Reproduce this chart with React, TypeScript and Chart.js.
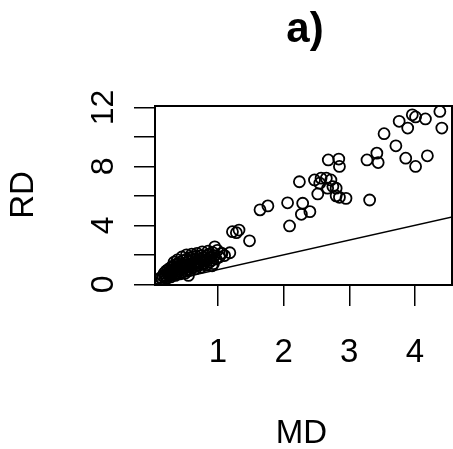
import React, { useEffect, useRef } from "react";
import { Chart, registerables } from "chart.js";

Chart.register(...registerables);

// MD (x) values of the observations
const mdValues: number[] = [
  4.38, 4.41, 4.16, 3.96, 4.01, 3.76, 3.89, 3.53, 3.71, 4.19, 3.86, 4.01, 3.42, 3.27, 3.44, 3.31,
  2.68, 2.84, 2.85, 2.24, 2.47, 2.57, 2.65, 2.72, 2.55, 2.75, 2.8, 2.67, 2.52, 2.8, 2.85, 2.95,
  2.06, 2.29, 2.4, 2.27, 2.09, 1.64, 1.76, 1.22, 1.32, 1.28, 1.48, 1.18, 0.95, 1.05,
  0.13, 0.16, 0.18, 0.2, 0.21, 0.23, 0.24, 0.25, 0.26, 0.27, 0.28, 0.29, 0.3, 0.31, 0.32, 0.33,
  0.34, 0.35, 0.36, 0.37, 0.38, 0.39, 0.4, 0.41, 0.42, 0.43, 0.44, 0.45, 0.46, 0.47, 0.48, 0.49,
  0.5, 0.51, 0.52, 0.53, 0.54, 0.55, 0.56, 0.57, 0.58, 0.59, 0.6, 0.61, 0.62, 0.63, 0.64, 0.65,
  0.66, 0.67, 0.68, 0.69, 0.7, 0.72, 0.73, 0.74, 0.75, 0.77, 0.78, 0.79, 0.8, 0.82, 0.83, 0.84,
  0.86, 0.87, 0.88, 0.9, 0.92, 0.93, 0.95, 0.97, 0.99, 1.02, 1.06, 1.1,
  0.15, 0.19, 0.22, 0.28, 0.35, 0.42, 0.5, 0.58, 0.66, 0.74,
  0.38, 0.45, 0.52, 0.6, 0.68, 0.76, 0.85, 0.91, 0.33, 0.55,
];

// RD (y) values of the observations
const rdValues: number[] = [
  11.73, 10.6, 11.22, 11.5, 11.36, 11.06, 10.6, 10.22, 9.4, 8.72, 8.56, 8.0, 8.9, 8.44, 8.26, 5.72,
  8.44, 8.5, 8.0, 6.96, 7.08, 7.2, 7.2, 7.08, 6.86, 6.63, 6.52, 6.52, 6.13, 6.0, 5.9, 5.83,
  5.53, 5.5, 4.93, 4.75, 3.96, 5.05, 5.32, 3.57, 3.68, 3.5, 2.95, 2.14, 2.54, 2.09,
  0.45, 0.55, 0.75, 0.62, 0.9, 0.7, 1.0, 0.82, 0.58, 1.1, 0.92, 0.74, 1.2, 0.85, 1.02, 0.66,
  1.3, 0.95, 1.12, 0.78, 1.4, 1.05, 0.88, 1.25, 1.5, 0.98, 1.15, 0.8, 1.35, 1.6, 1.08, 1.22,
  0.92, 1.45, 1.7, 1.18, 1.32, 1.02, 1.55, 1.8, 1.26, 1.4, 1.1, 1.62, 1.85, 1.34, 1.48, 1.2,
  1.7, 1.9, 1.42, 1.56, 1.28, 1.76, 1.5, 1.95, 1.35, 1.65, 1.82, 1.45, 1.58, 1.3, 1.92, 1.7,
  2.05, 1.5, 1.8, 1.62, 2.15, 1.4, 1.95, 1.72, 2.3, 1.85, 2.1, 1.95,
  0.35, 0.48, 0.4, 0.5, 0.6, 0.7, 0.75, 0.95, 1.05, 1.15,
  1.65, 1.85, 2.0, 2.05, 2.1, 2.2, 2.25, 1.25, 1.5, 0.6,
];

// reference line RD = MD
const lineMD: number[] = [0, 4.6];
const lineRD: number[] = [0, 4.6];

const xTickValues: number[] = [1, 2, 3, 4];
const xTickLabels: string[] = ["1", "2", "3", "4"];
const yTickValues: number[] = [0, 2, 4, 6, 8, 10, 12];
const yTickLabels: string[] = ["0", "", "4", "", "8", "", "12"];

const titleText = "a)";
const xAxisTitle = "MD";
const yAxisTitle = "RD";

const FONT = "'Liberation Sans', Arial, Helvetica, sans-serif";

const textPlugin = {
  id: "rStyleText",
  afterDraw(chart: any) {
    const ctx = chart.ctx as CanvasRenderingContext2D;
    const area = chart.chartArea;
    const xs = chart.scales.x;
    const ys = chart.scales.y;
    ctx.save();
    // plot box
    ctx.strokeStyle = "#000";
    ctx.lineWidth = 2;
    ctx.strokeRect(area.left, area.top, area.right - area.left, area.bottom - area.top);

    ctx.fillStyle = "#000";
    // x tick labels
    ctx.font = `33px ${FONT}`;
    ctx.textAlign = "center";
    ctx.textBaseline = "alphabetic";
    xTickValues.forEach((v, i) => {
      ctx.fillText(xTickLabels[i], xs.getPixelForValue(v), 362);
    });
    // y tick labels (rotated)
    ctx.font = `32px ${FONT}`;
    yTickValues.forEach((v, i) => {
      const lab = yTickLabels[i];
      if (!lab) return;
      ctx.save();
      ctx.translate(113, ys.getPixelForValue(v));
      ctx.rotate(-Math.PI / 2);
      ctx.textAlign = "center";
      ctx.fillText(lab, 0, 0);
      ctx.restore();
    });
    // axis titles
    ctx.font = `33px ${FONT}`;
    ctx.textAlign = "center";
    ctx.fillText(xAxisTitle, 301.5, 443);
    ctx.save();
    ctx.translate(33, 195);
    ctx.rotate(-Math.PI / 2);
    ctx.fillText(yAxisTitle, 0, 0);
    ctx.restore();
    // main title
    ctx.font = `bold 42px 'Liberation Sans Narrow', ${FONT}`;
    ctx.fillText(titleText, 305, 42);
    ctx.restore();
  },
};

export default function App() {
  const canvasRef = useRef<HTMLCanvasElement | null>(null);

  useEffect(() => {
    const canvas = canvasRef.current;
    if (!canvas) return;
    const points = mdValues.map((x, i) => ({ x, y: rdValues[i] }));
    const linePts = lineMD.map((x, i) => ({ x, y: lineRD[i] }));
    const chart = new Chart(canvas, {
      type: "scatter",
      data: {
        datasets: [
          {
            type: "line",
            data: linePts,
            borderColor: "#000",
            borderWidth: 1.5,
            pointRadius: 0,
            fill: false,
          },
          {
            type: "scatter",
            data: points,
            pointStyle: "circle",
            pointRadius: 5.5,
            pointBorderWidth: 1.8,
            borderColor: "#000",
            backgroundColor: "rgba(0,0,0,0)",
            pointBackgroundColor: "rgba(0,0,0,0)",
            pointBorderColor: "#000",
          },
        ],
      },
      options: {
        animation: false,
        responsive: false,
        devicePixelRatio: 1,
        layout: { autoPadding: false, padding: { top: 106, right: 1, left: 0, bottom: 0 } },
        plugins: {
          legend: { display: false },
          tooltip: { enabled: false },
          title: { display: false },
        },
        scales: {
          x: {
            type: "linear",
            min: 0.04,
            max: 4.565,
            afterBuildTicks: (s: any) => {
              s.ticks = xTickValues.map((v) => ({ value: v }));
            },
            afterFit: (s: any) => {
              s.height = 164;
            },
            ticks: { display: false },
            border: { display: false },
            grid: {
              display: true,
              drawOnChartArea: false,
              drawTicks: true,
              tickLength: 21,
              color: "#000",
              lineWidth: 1.5,
            },
          },
          y: {
            type: "linear",
            min: -0.05,
            max: 12.1,
            afterBuildTicks: (s: any) => {
              s.ticks = yTickValues.map((v) => ({ value: v }));
            },
            afterFit: (s: any) => {
              s.width = 155;
            },
            ticks: { display: false },
            border: { display: false },
            grid: {
              display: true,
              drawOnChartArea: false,
              drawTicks: true,
              tickLength: 21,
              color: "#000",
              lineWidth: 1.5,
            },
          },
        },
      },
      plugins: [textPlugin],
    } as any);
    return () => chart.destroy();
  }, []);

  return (
    <div style={{ position: "absolute", left: 0, top: 0, width: 453, height: 449, background: "#fff" }}>
      <canvas ref={canvasRef} width={453} height={449} style={{ display: "block", width: 453, height: 449 }} />
    </div>
  );
}
